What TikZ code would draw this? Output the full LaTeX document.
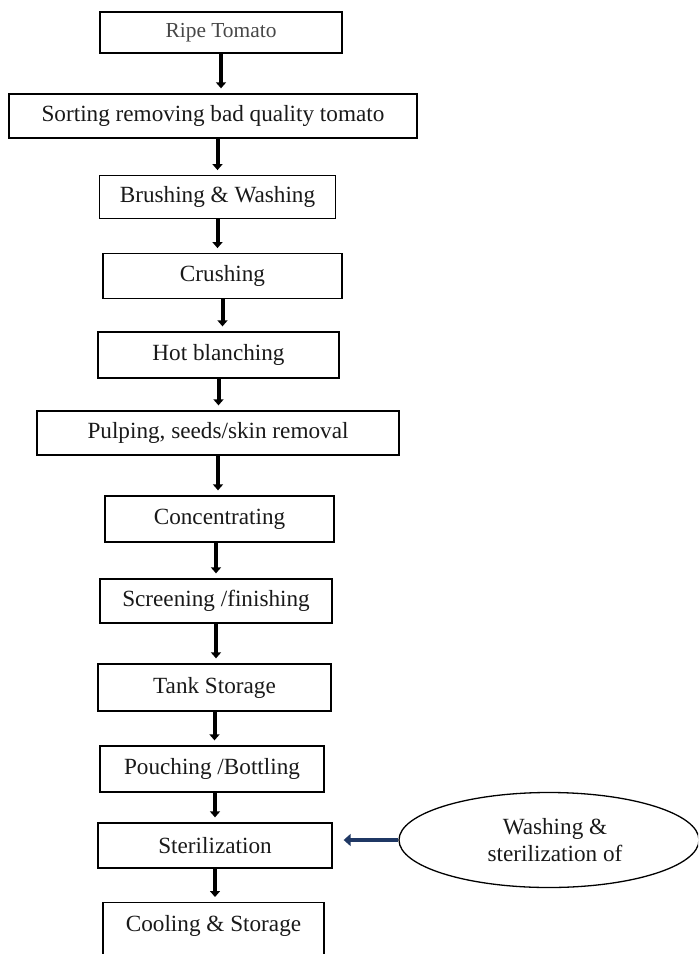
\documentclass[tikz,border=0pt]{standalone}
\usepackage{fontspec}
\setmainfont{Liberation Serif}
\usetikzlibrary{arrows.meta,shapes.geometric}
\definecolor{navyarrow}{HTML}{1F3864}
\begin{document}
\begin{tikzpicture}[x=0.5pt,y=-0.5pt,
  box/.style={draw, line width=0.65pt, inner sep=0pt, font=\fontsize{11.6}{14}\selectfont, text=black!90},
  flow/.style={line width=2pt, -{Triangle[width=5pt,length=3pt]}, shorten >=2.5pt},
]
\useasboundingbox (0,0) rectangle (698,954);
\clip (0,0) rectangle (698,954);

\node[box, minimum width=121pt, minimum height=20.5pt, font=\fontsize{10.7}{13}\selectfont, text=black!72] (ripe) at (221,32.5) {Ripe Tomato};
\node[box, minimum width=204pt, minimum height=22pt] (sort) at (213,116) {Sorting removing bad quality tomato};
\node[box, minimum width=118pt, minimum height=21.25pt] (brush) at (217.5,197) {Brushing \& Washing};
\node[box, minimum width=119.5pt, minimum height=22.25pt] (crush) at (222.5,276) {Crushing};
\node[box, minimum width=120.5pt, minimum height=23pt] (hot) at (218.5,355) {Hot blanching};
\node[box, minimum width=181pt, minimum height=22pt] (pulp) at (218,433) {Pulping, seeds/skin removal};
\node[box, minimum width=114.5pt, minimum height=23pt] (conc) at (219.5,519) {Concentrating};
\node[box, minimum width=116pt, minimum height=22pt] (screen) at (216,601) {Screening /finishing};
\node[box, minimum width=116.5pt, minimum height=23.5pt] (tank) at (214.5,687.5) {Tank Storage};
\node[box, minimum width=112pt, minimum height=23pt] (pouch) at (212,769) {Pouching /Bottling};
\node[box, minimum width=117pt, minimum height=22.5pt] (ster) at (215,845.5) {Sterilization};
\node[box, anchor=north, minimum width=110.5pt, text height=14.5pt, text depth=16pt] (cool) at (213.5,902) {Cooling \& Storage};

\node[draw, ellipse, line width=0.65pt, inner sep=0pt, minimum width=150pt, minimum height=47.5pt,
      align=center, font=\fontsize{11.6}{13.5}\selectfont, text=black!90] (wash) at (549,840)
      {\hspace*{6pt}Washing \&\\\hspace*{6pt}sterilization of};

\draw[flow] (ripe.south) -- (ripe.south |- sort.north);
\draw[flow] (sort.south -| brush.north) -- (brush.north);
\draw[flow] (brush.south) -- (brush.south |- crush.north);
\draw[flow] (crush.south) -- (crush.south |- hot.north);
\draw[flow] (hot.south) -- (hot.south |- pulp.north);
\draw[flow] (pulp.south) -- (pulp.south |- conc.north);
\draw[flow] (conc.south -| screen.north) -- (screen.north);
\draw[flow] (screen.south) -- (screen.south |- tank.north);
\draw[flow] (tank.south) -- (tank.south |- pouch.north);
\draw[flow] (pouch.south -| ster.north) -- (ster.north);
\draw[flow] (ster.south) -- (ster.south |- cool.north);

\draw[line width=2pt, navyarrow, -{Triangle[width=6pt,length=3.5pt]}, shorten >=5.5pt]
  (wash.west) -- (wash.west -| ster.east);
\end{tikzpicture}
\end{document}
